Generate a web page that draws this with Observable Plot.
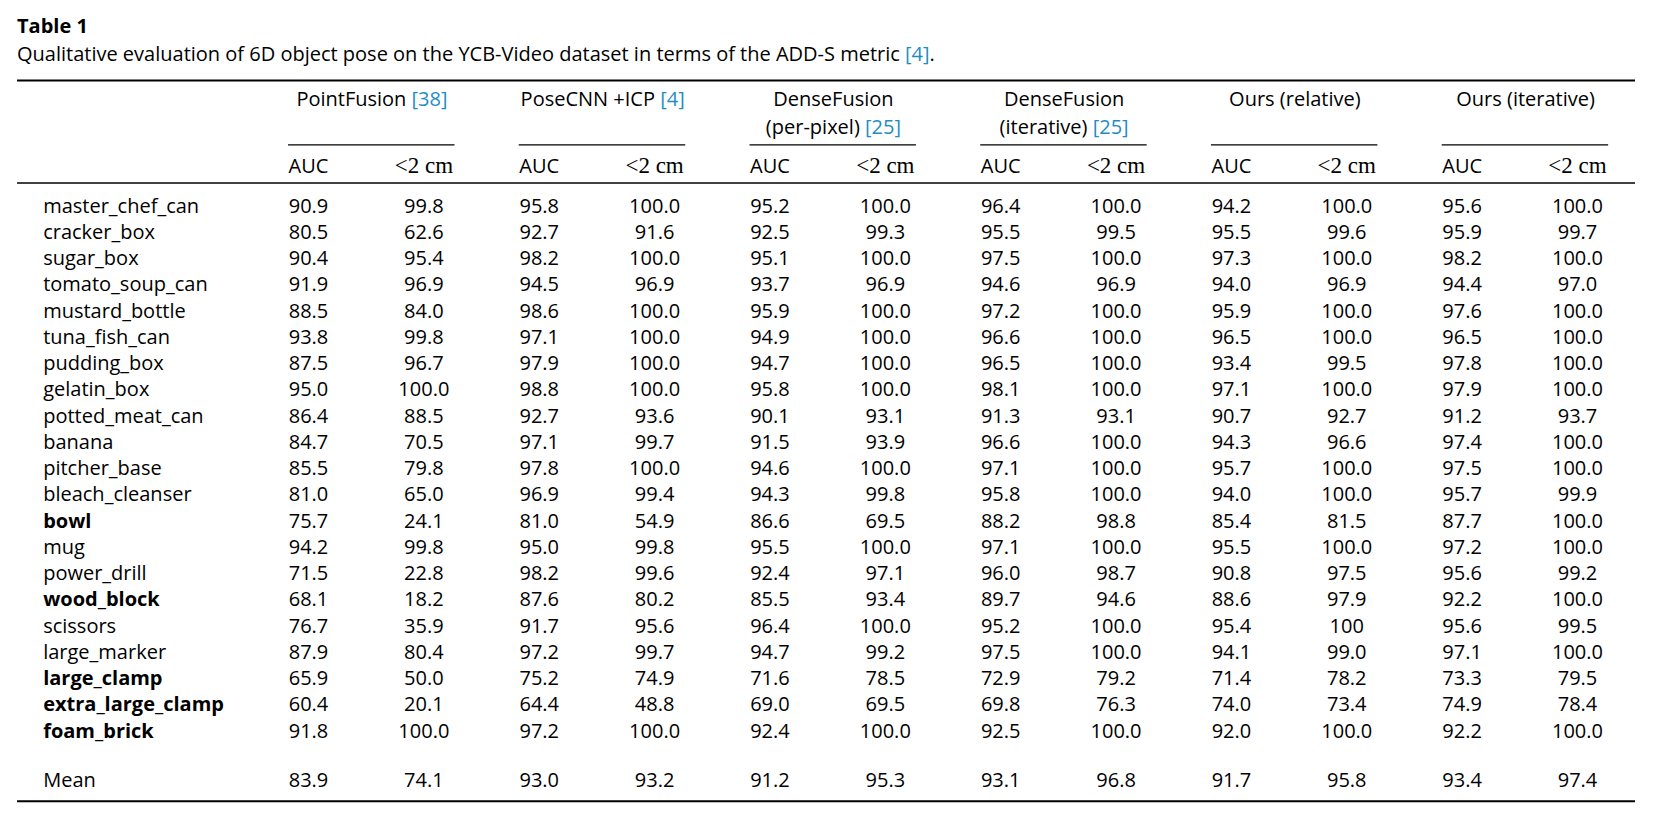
<!DOCTYPE html>
<html><head><meta charset="utf-8">
<script src="https://cdn.jsdelivr.net/npm/d3@7"></script>
<script src="https://cdn.jsdelivr.net/npm/@observablehq/plot@0.6"></script>
<style>
html,body{margin:0;padding:0;background:#fff;overflow:hidden;}
body{font-family:"Open Sans",sans-serif;color:#000;position:relative;width:1654px;height:814px;}
#title{position:absolute;left:17px;top:16px;font-weight:700;font-size:20px;line-height:20px;margin:0;white-space:nowrap;}
#caption{position:absolute;left:17px;top:43px;font-size:20px;line-height:22px;margin:0;white-space:nowrap;}
.ref{color:#1f8dc2;}
#chart{position:absolute;left:0;top:67px;}
#chart svg{display:block;}
</style></head><body>
<div id="title">Table 1</div>
<div id="caption">Qualitative evaluation of 6D object pose on the YCB-Video dataset in terms of the ADD-S metric <span class="ref">[4]</span>.</div>
<div id="chart"></div>
<script>
// ---------- data ----------
const objects = ["master_chef_can","cracker_box","sugar_box","tomato_soup_can","mustard_bottle","tuna_fish_can","pudding_box","gelatin_box","potted_meat_can","banana","pitcher_base","bleach_cleanser","bowl","mug","power_drill","wood_block","scissors","large_marker","large_clamp","extra_large_clamp","foam_brick"];
const boldObjects = ["bowl","wood_block","large_clamp","extra_large_clamp","foam_brick"];
const meanLabel = "Mean";
const methodsLine1 = ["PointFusion [38]","PoseCNN +ICP [4]","DenseFusion","DenseFusion","Ours (relative)","Ours (iterative)"];
const methodsLine2 = ["","","(per-pixel) [25]","(iterative) [25]","",""];
const metrics = ["AUC","<2 cm"];
// each list: 21 objects followed by the mean
const pointFusionAUC   = ["90.9","80.5","90.4","91.9","88.5","93.8","87.5","95.0","86.4","84.7","85.5","81.0","75.7","94.2","71.5","68.1","76.7","87.9","65.9","60.4","91.8","83.9"];
const pointFusionCm    = ["99.8","62.6","95.4","96.9","84.0","99.8","96.7","100.0","88.5","70.5","79.8","65.0","24.1","99.8","22.8","18.2","35.9","80.4","50.0","20.1","100.0","74.1"];
const poseCnnAUC       = ["95.8","92.7","98.2","94.5","98.6","97.1","97.9","98.8","92.7","97.1","97.8","96.9","81.0","95.0","98.2","87.6","91.7","97.2","75.2","64.4","97.2","93.0"];
const poseCnnCm        = ["100.0","91.6","100.0","96.9","100.0","100.0","100.0","100.0","93.6","99.7","100.0","99.4","54.9","99.8","99.6","80.2","95.6","99.7","74.9","48.8","100.0","93.2"];
const denseFusionPixAUC= ["95.2","92.5","95.1","93.7","95.9","94.9","94.7","95.8","90.1","91.5","94.6","94.3","86.6","95.5","92.4","85.5","96.4","94.7","71.6","69.0","92.4","91.2"];
const denseFusionPixCm = ["100.0","99.3","100.0","96.9","100.0","100.0","100.0","100.0","93.1","93.9","100.0","99.8","69.5","100.0","97.1","93.4","100.0","99.2","78.5","69.5","100.0","95.3"];
const denseFusionItAUC = ["96.4","95.5","97.5","94.6","97.2","96.6","96.5","98.1","91.3","96.6","97.1","95.8","88.2","97.1","96.0","89.7","95.2","97.5","72.9","69.8","92.5","93.1"];
const denseFusionItCm  = ["100.0","99.5","100.0","96.9","100.0","100.0","100.0","100.0","93.1","100.0","100.0","100.0","98.8","100.0","98.7","94.6","100.0","100.0","79.2","76.3","100.0","96.8"];
const oursRelAUC       = ["94.2","95.5","97.3","94.0","95.9","96.5","93.4","97.1","90.7","94.3","95.7","94.0","85.4","95.5","90.8","88.6","95.4","94.1","71.4","74.0","92.0","91.7"];
const oursRelCm        = ["100.0","99.6","100.0","96.9","100.0","100.0","99.5","100.0","92.7","96.6","100.0","100.0","81.5","100.0","97.5","97.9","100","99.0","78.2","73.4","100.0","95.8"];
const oursItAUC        = ["95.6","95.9","98.2","94.4","97.6","96.5","97.8","97.9","91.2","97.4","97.5","95.7","87.7","97.2","95.6","92.2","95.6","97.1","73.3","74.9","92.2","93.4"];
const oursItCm         = ["100.0","99.7","100.0","97.0","100.0","100.0","100.0","100.0","93.7","100.0","100.0","99.9","100.0","100.0","99.2","100.0","99.5","100.0","79.5","78.4","100.0","97.4"];
const columns = [pointFusionAUC,pointFusionCm,poseCnnAUC,poseCnnCm,denseFusionPixAUC,denseFusionPixCm,denseFusionItAUC,denseFusionItCm,oursRelAUC,oursRelCm,oursItAUC,oursItCm];

// ---------- layout (in column / row units) ----------
const REF_COLOR = "#1f8dc2";
const LABEL_X = -2.3, LEFT = -2.522, RIGHT = 11.503;
const MEAN_ROW = objects.length + 0.9;
const Y_TOP_RULE = -5.03, Y_LINE1 = -4.04, Y_LINE2 = -3.0, Y_GROUP_RULE = -2.58,
      Y_METRIC = -1.5, Y_HEAD_RULE = -1.124, Y_BOTTOM_RULE = 22.43;

const rowPos = i => i < objects.length ? i : MEAN_ROW;
const labelRows = [...objects, meanLabel].map((name, i) => ({name, x: LABEL_X, y: rowPos(i), bold: boldObjects.includes(name)}));
const cells = columns.flatMap((col, c) => col.map((v, i) => ({x: c, y: rowPos(i), text: v})));
const header1 = methodsLine1.map((t, g) => ({x: 2 * g + 0.55, y: Y_LINE1, text: t}));
const header2 = methodsLine2.map((t, g) => ({x: 2 * g + 0.55, y: Y_LINE2, text: t})).filter(d => d.text);
const metricCells = d3.range(columns.length).map(c => ({x: c, y: Y_METRIC, text: metrics[c % 2], kind: c % 2}));
const groupRules = methodsLine1.map((t, g) => ({x1: 2 * g - 0.173, x2: 2 * g + 1.27, y: Y_GROUP_RULE}));
const thickRules = [Y_TOP_RULE, Y_BOTTOM_RULE].map(y => ({x1: LEFT, x2: RIGHT, y}));
const thinRules = [{x1: LEFT, x2: RIGHT, y: Y_HEAD_RULE}];

const FONT = "Open Sans";
const fs = 20;
const svg = Plot.plot({
  width: 1654, height: 747,
  marginTop: 0, marginBottom: 0, marginLeft: 0, marginRight: 0,
  x: {type: "linear", domain: [0, 11], range: [308, 1577], axis: null},
  y: {type: "linear", domain: [0, 20], range: [145, 670], axis: null},
  marks: [
    Plot.ruleY(thickRules, {x1: "x1", x2: "x2", y: "y", stroke: "#000", strokeWidth: 2}),
    Plot.ruleY(thinRules, {x1: "x1", x2: "x2", y: "y", stroke: "#000", strokeWidth: 1.3}),
    Plot.ruleY(groupRules, {x1: "x1", x2: "x2", y: "y", stroke: "#000", strokeWidth: 1.3}),
    Plot.text(header1, {x: "x", y: "y", text: "text", textAnchor: "middle", lineAnchor: "bottom", fontFamily: FONT, fontSize: fs, fill: "#000"}),
    Plot.text(header2, {x: "x", y: "y", text: "text", textAnchor: "middle", lineAnchor: "bottom", fontFamily: FONT, fontSize: fs, fill: "#000"}),
    Plot.text(metricCells.filter(d => d.kind === 0), {x: "x", y: "y", text: "text", textAnchor: "middle", lineAnchor: "bottom", fontFamily: FONT, fontSize: fs, fill: "#000"}),
    Plot.text(metricCells.filter(d => d.kind === 1), {x: "x", y: "y", text: "text", textAnchor: "middle", lineAnchor: "bottom", fontFamily: "Liberation Serif", fontSize: 23, fill: "#000"}),
    Plot.text(labelRows.filter(d => !d.bold), {x: "x", y: "y", text: "name", textAnchor: "start", lineAnchor: "bottom", fontFamily: FONT, fontSize: fs, fill: "#000"}),
    Plot.text(labelRows.filter(d => d.bold), {x: "x", y: "y", text: "name", textAnchor: "start", lineAnchor: "bottom", fontFamily: FONT, fontSize: fs, fontWeight: "bold", fill: "#000"}),
    Plot.text(cells, {x: "x", y: "y", text: "text", textAnchor: "middle", lineAnchor: "bottom", fontFamily: FONT, fontSize: fs, fill: "#000"})
  ]
});

// colour the bracketed citation numbers blue
svg.querySelectorAll("text").forEach(t => {
  if (t.children.length) return;
  const m = t.textContent.match(/^(.*\S)\s+(\[\d+\])$/);
  if (!m) return;
  t.textContent = m[1] + " ";
  const ts = document.createElementNS("http://www.w3.org/2000/svg", "tspan");
  ts.setAttribute("fill", REF_COLOR);
  ts.textContent = m[2];
  t.appendChild(ts);
});
document.getElementById("chart").appendChild(svg);
</script>
</body></html>
